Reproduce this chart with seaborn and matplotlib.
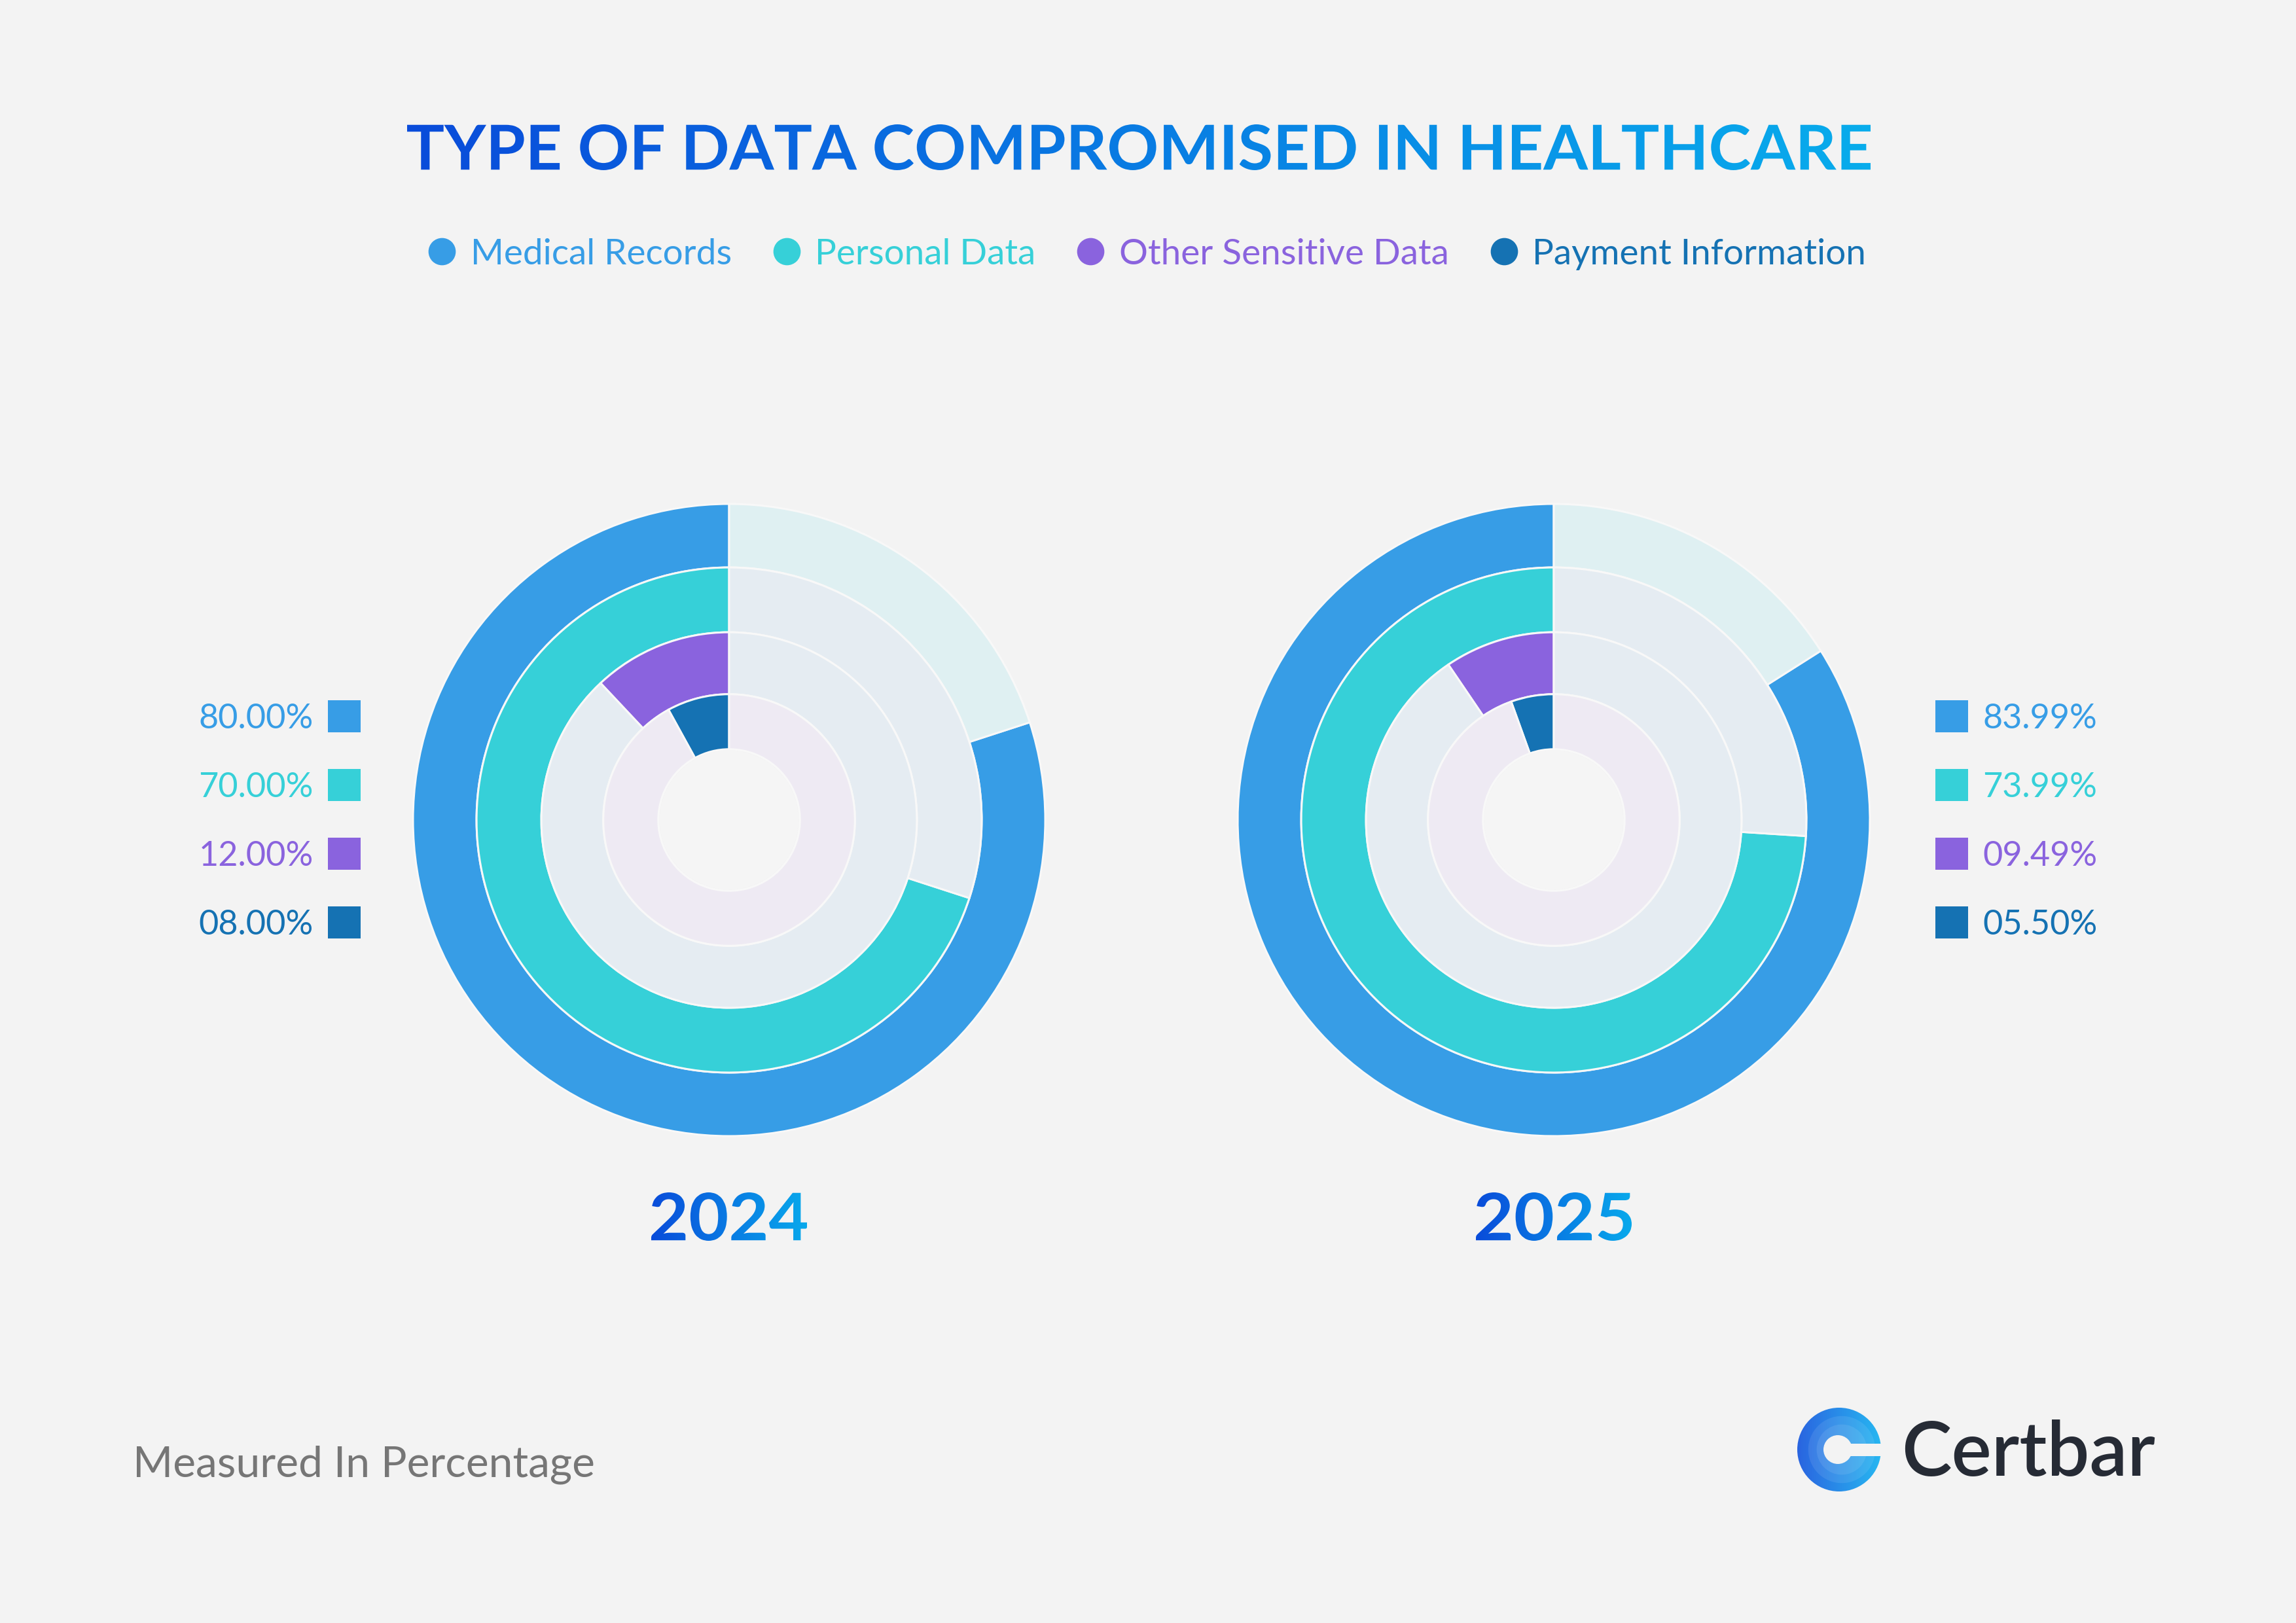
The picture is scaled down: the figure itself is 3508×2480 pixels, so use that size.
import numpy as np
import matplotlib
matplotlib.use('Agg')
import matplotlib.pyplot as plt
import matplotlib.transforms as mtransforms
import seaborn as sns
from matplotlib.textpath import TextPath
from matplotlib.font_manager import FontProperties
from matplotlib.patches import PathPatch, Circle, Rectangle
from matplotlib.lines import Line2D
from matplotlib.colors import LinearSegmentedColormap

# data
categories = ['Medical Records', 'Personal Data', 'Other Sensitive Data', 'Payment Information']
years = ['2024', '2025']
values_2024 = [80.00, 70.00, 12.00, 8.00]
values_2025 = [83.99, 73.99, 9.49, 5.50]
labels_2024 = ['80.00%', '70.00%', '12.00%', '08.00%']
labels_2025 = ['83.99%', '73.99%', '09.49%', '05.50%']

series_colors = ['#379DE6', '#36D0D8', '#8A63DE', '#1572B3']
track_colors = ['#DFF0F2', '#E5ECF2', '#E5ECF2', '#EEEAF3']

W, H = 3508, 2480
BG = '#F3F3F3'

sns.set_theme(style='white', rc={'figure.facecolor': BG, 'axes.facecolor': 'none',
                                 'savefig.facecolor': BG})
plt.rcParams['font.family'] = ['Lato', 'DejaVu Sans']
palette = sns.color_palette(series_colors)

fig = plt.figure(figsize=(W / 100, H / 100), dpi=100)

# overlay axes in pixel units (y down) for texts and decorations
ov = fig.add_axes([0, 0, 1, 1])
ov.set_xlim(0, W)
ov.set_ylim(H, 0)
ov.set_autoscale_on(False)
ov.axis('off')

GRAD = np.linspace(0, 1, 256)[None, :]


def gradient_text(ax, s, box, c0, c1, weight='bold'):
    """text drawn as a path filled with a left->right gradient, fitted into box"""
    x0, y0, x1, y1 = box
    tp = TextPath((0, 0), s, size=100, prop=FontProperties(family='Lato', weight=weight))
    bb = tp.get_extents()
    tr = (mtransforms.Affine2D()
          .translate(-bb.x0, -bb.y0)
          .scale((x1 - x0) / bb.width, -(y1 - y0) / bb.height)
          .translate(x0, y1))
    patch = PathPatch(tr.transform_path(tp), fc='none', ec='none')
    ax.add_patch(patch)
    cmap = LinearSegmentedColormap.from_list('grad', [c0, c1])
    im = ax.imshow(GRAD, cmap=cmap, extent=[x0, x1, y1, y0], aspect='auto',
                   interpolation='bicubic', zorder=3)
    im.set_clip_path(patch)


# title
gradient_text(ov, 'TYPE OF DATA COMPROMISED IN HEALTHCARE', (622, 190, 2858, 260),
              '#0A4CDA', '#08ACEC')

# legend
handles = [Line2D([0], [0], marker='o', ls='', ms=29, mfc=c, mec=c, label=cat)
           for cat, c in zip(categories, palette)]
fig.legend(handles=handles, loc='center', bbox_to_anchor=(0.4997, 0.8435), ncol=4,
           frameon=False, fontsize=39.5, handlelength=0.75, handletextpad=0.42,
           columnspacing=1.15, labelcolor='markerfacecolor', borderaxespad=0, borderpad=0)


def draw_rings(cx, cy, values):
    r_px = 483
    ax = fig.add_axes([(cx - r_px) / W, 1 - (cy + r_px) / H, 2 * r_px / W, 2 * r_px / H])
    radii = [1.0, 0.799, 0.594, 0.398, 0.224]
    for i, v in enumerate(values):
        ax.pie([v, 100 - v], radius=radii[i], colors=[palette[i], track_colors[i]],
               startangle=90, counterclock=True,
               wedgeprops=dict(width=radii[i] - radii[i + 1], edgecolor='#F8F8F8',
                               linewidth=2.2))
    ax.add_patch(Circle((0, 0), radii[-1] - 0.004, fc='#F5F5F5', ec='none'))
    ax.set_xlim(-1, 1)
    ax.set_ylim(-1, 1)
    ax.set_aspect('equal')
    return ax


chart_x = [1114, 2374]
draw_rings(chart_x[0], 1253, values_2024)
draw_rings(chart_x[1], 1253, values_2025)

# side value labels
row_y = [1095, 1200, 1305, 1410]
for i in range(len(categories)):
    y = row_y[i]
    c = palette[i]
    ov.add_patch(Rectangle((501, y - 25), 50, 49, fc=c, ec='none'))
    ov.text(479, y + 18, labels_2024[i], ha='right', va='baseline', fontsize=37.5, color=c)
    ov.add_patch(Rectangle((2957, y - 25), 50, 49, fc=c, ec='none'))
    ov.text(3029, y + 18, labels_2025[i], ha='left', va='baseline', fontsize=37.5, color=c)

# year labels
for x, yr in zip(chart_x, years):
    gradient_text(ov, yr, (x - 119, 1822, x + 119, 1896), '#0A4CDA', '#08A9EC')

# footer
ov.text(203, 2256, 'Measured In Percentage', ha='left', va='baseline', fontsize=47.5,
        color='#767676')

# logo
lx, ly, lr = 2810, 2215, 64
logo = Circle((lx, ly), lr, fc='none', ec='none')
ov.add_patch(logo)
im = ov.imshow(GRAD, cmap=LinearSegmentedColormap.from_list('logo', ['#2A64E0', '#27B7F1']),
               extent=[lx - lr, lx + lr, ly + lr, ly - lr], aspect='auto', zorder=3)
im.set_clip_path(logo)
for rr in [0.8, 0.6]:
    ov.add_patch(Circle((lx + 4, ly), lr * rr, fc='white', alpha=0.09, ec='none', zorder=4))
ov.add_patch(Circle((lx - 2, ly), 22, fc=BG, ec='none', zorder=5))
ov.add_patch(Rectangle((lx, ly - 9.5), lr + 4, 19, fc=BG, ec='none', zorder=5))
ov.text(2905, 2255, 'Certbar', ha='left', va='baseline', fontsize=83, fontweight='semibold',
        color='#262B35')

ov.set_xlim(0, W)
ov.set_ylim(H, 0)

fig.savefig('out.png', dpi=100, facecolor=BG)
